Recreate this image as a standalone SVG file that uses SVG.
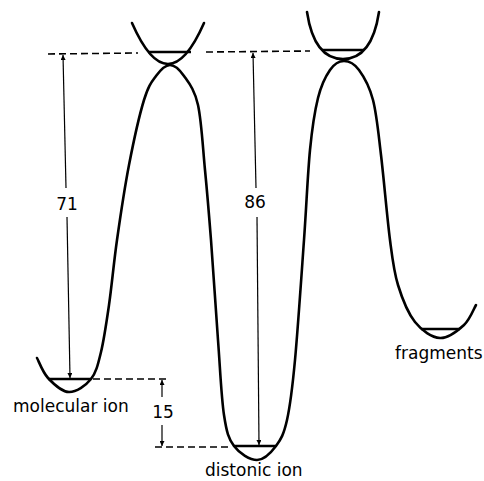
<svg xmlns="http://www.w3.org/2000/svg" width="484" height="481" viewBox="0 0 484 481">
<defs>
<style>
.curve{fill:none;stroke:#000;stroke-width:2.6;stroke-linecap:round;stroke-linejoin:round}
.level{fill:none;stroke:#000;stroke-width:2.4}
.dash{fill:none;stroke:#000;stroke-width:1.6;stroke-dasharray:7 4}
.dim{fill:none;stroke:#000;stroke-width:1.2}
.lbl{font-family:"DejaVu Sans",sans-serif;font-size:17px;fill:#000}
.num{font-family:"DejaVu Sans",sans-serif;font-size:17px;fill:#000;text-anchor:middle}
</style>
<marker id="ah" viewBox="0 0 10 10" refX="10" refY="5" markerWidth="8" markerHeight="5" markerUnits="userSpaceOnUse" orient="auto">
<path d="M0,0 L10,5 L0,10 z" fill="#000"/>
</marker>
</defs>
<rect width="484" height="481" fill="#fff"/>
<g id="surface">
<path class="curve" d="M37,358 C38.8,361.3 42.7,372.3 48,378 C53.3,383.7 61.8,391.8 69,392 C76.2,392.2 85.7,385.7 91,379 C96.3,372.3 98,364.3 101,352 C104,339.7 106.3,323.7 109,305 C111.7,286.3 113.7,263.3 117,240 C120.3,216.7 124.5,188.3 129,165 C133.5,141.7 139.5,114.8 144,100 C148.5,85.2 151.7,81.8 156,76 C160.3,70.2 165.3,65 170,65 C174.7,65 179.3,69.3 184,76 C188.7,82.7 194.5,89.3 198,105 C201.5,120.7 202.8,147.5 205,170 C207.2,192.5 208.8,211.7 211,240 C213.2,268.3 215.8,310.8 218,340 C220.2,369.2 221.3,397.3 224,415 C226.7,432.7 228.5,438.5 234,446 C239.5,453.5 250,460 257,460 C264,460 271,452.7 276,446 C281,439.3 283.8,434.3 287,420 C290.2,405.7 292.2,390 295,360 C297.8,330 301.5,275 304,240 C306.5,205 307.7,173.7 310,150 C312.3,126.3 314.7,111.3 318,98 C321.3,84.7 325.7,76.2 330,70 C334.3,63.8 339.2,61 344,61 C348.8,61 354.2,63.5 359,70 C363.8,76.5 369.3,85.8 373,100 C376.7,114.2 378.2,131.7 381,155 C383.8,178.3 387.2,218.3 390,240 C392.8,261.7 393.8,271.3 398,285 C402.2,298.7 408,313.2 415,322 C422,330.8 431.8,337.5 440,338 C448.2,338.5 458,330.5 464,325 C470,319.5 474,308.3 476,305"/>
</g>
<g id="ts1">
<path class="curve" d="M132,23 Q168,105 204,23"/>
<line class="level" x1="148" y1="52" x2="191" y2="52"/>
</g>
<g id="ts2">
<path class="curve" d="M307,12 C312,45 325,59 343,59 C361,59 374,45 379,12"/>
<line class="level" x1="322" y1="50" x2="364" y2="50"/>
</g>
<g id="molecular-ion">
<line class="level" x1="48" y1="379" x2="91" y2="379"/>
<text class="lbl" x="13" y="412">molecular ion</text>
</g>
<g id="distonic-ion">
<line class="level" x1="234" y1="446" x2="276" y2="446"/>
<text class="lbl" x="205" y="476">distonic ion</text>
</g>
<g id="fragments">
<line class="level" x1="421" y1="329" x2="460" y2="329"/>
<text class="lbl" x="395" y="359">fragments</text>
</g>
<g id="connectors">
<line class="dash" x1="48" y1="54" x2="138" y2="53"/>
<line class="dash" x1="206" y1="52" x2="310" y2="51"/>
<line class="dash" x1="93" y1="379" x2="168" y2="379"/>
<line class="dash" x1="155" y1="447" x2="232" y2="447"/>
<line class="dim" x1="66" y1="188" x2="63" y2="55" marker-end="url(#ah)"/>
<line class="dim" x1="67" y1="217" x2="70" y2="378" marker-end="url(#ah)"/>
<line class="dim" x1="256" y1="188" x2="253" y2="53" marker-end="url(#ah)"/>
<line class="dim" x1="257" y1="217" x2="259" y2="445" marker-end="url(#ah)"/>
<line class="dim" x1="162" y1="397" x2="162" y2="380" marker-end="url(#ah)"/>
<line class="dim" x1="162" y1="425" x2="162" y2="446" marker-end="url(#ah)"/>
<text class="num" x="67" y="210">71</text>
<text class="num" x="255" y="208">86</text>
<text class="num" x="163" y="418">15</text>
</g>
</svg>
